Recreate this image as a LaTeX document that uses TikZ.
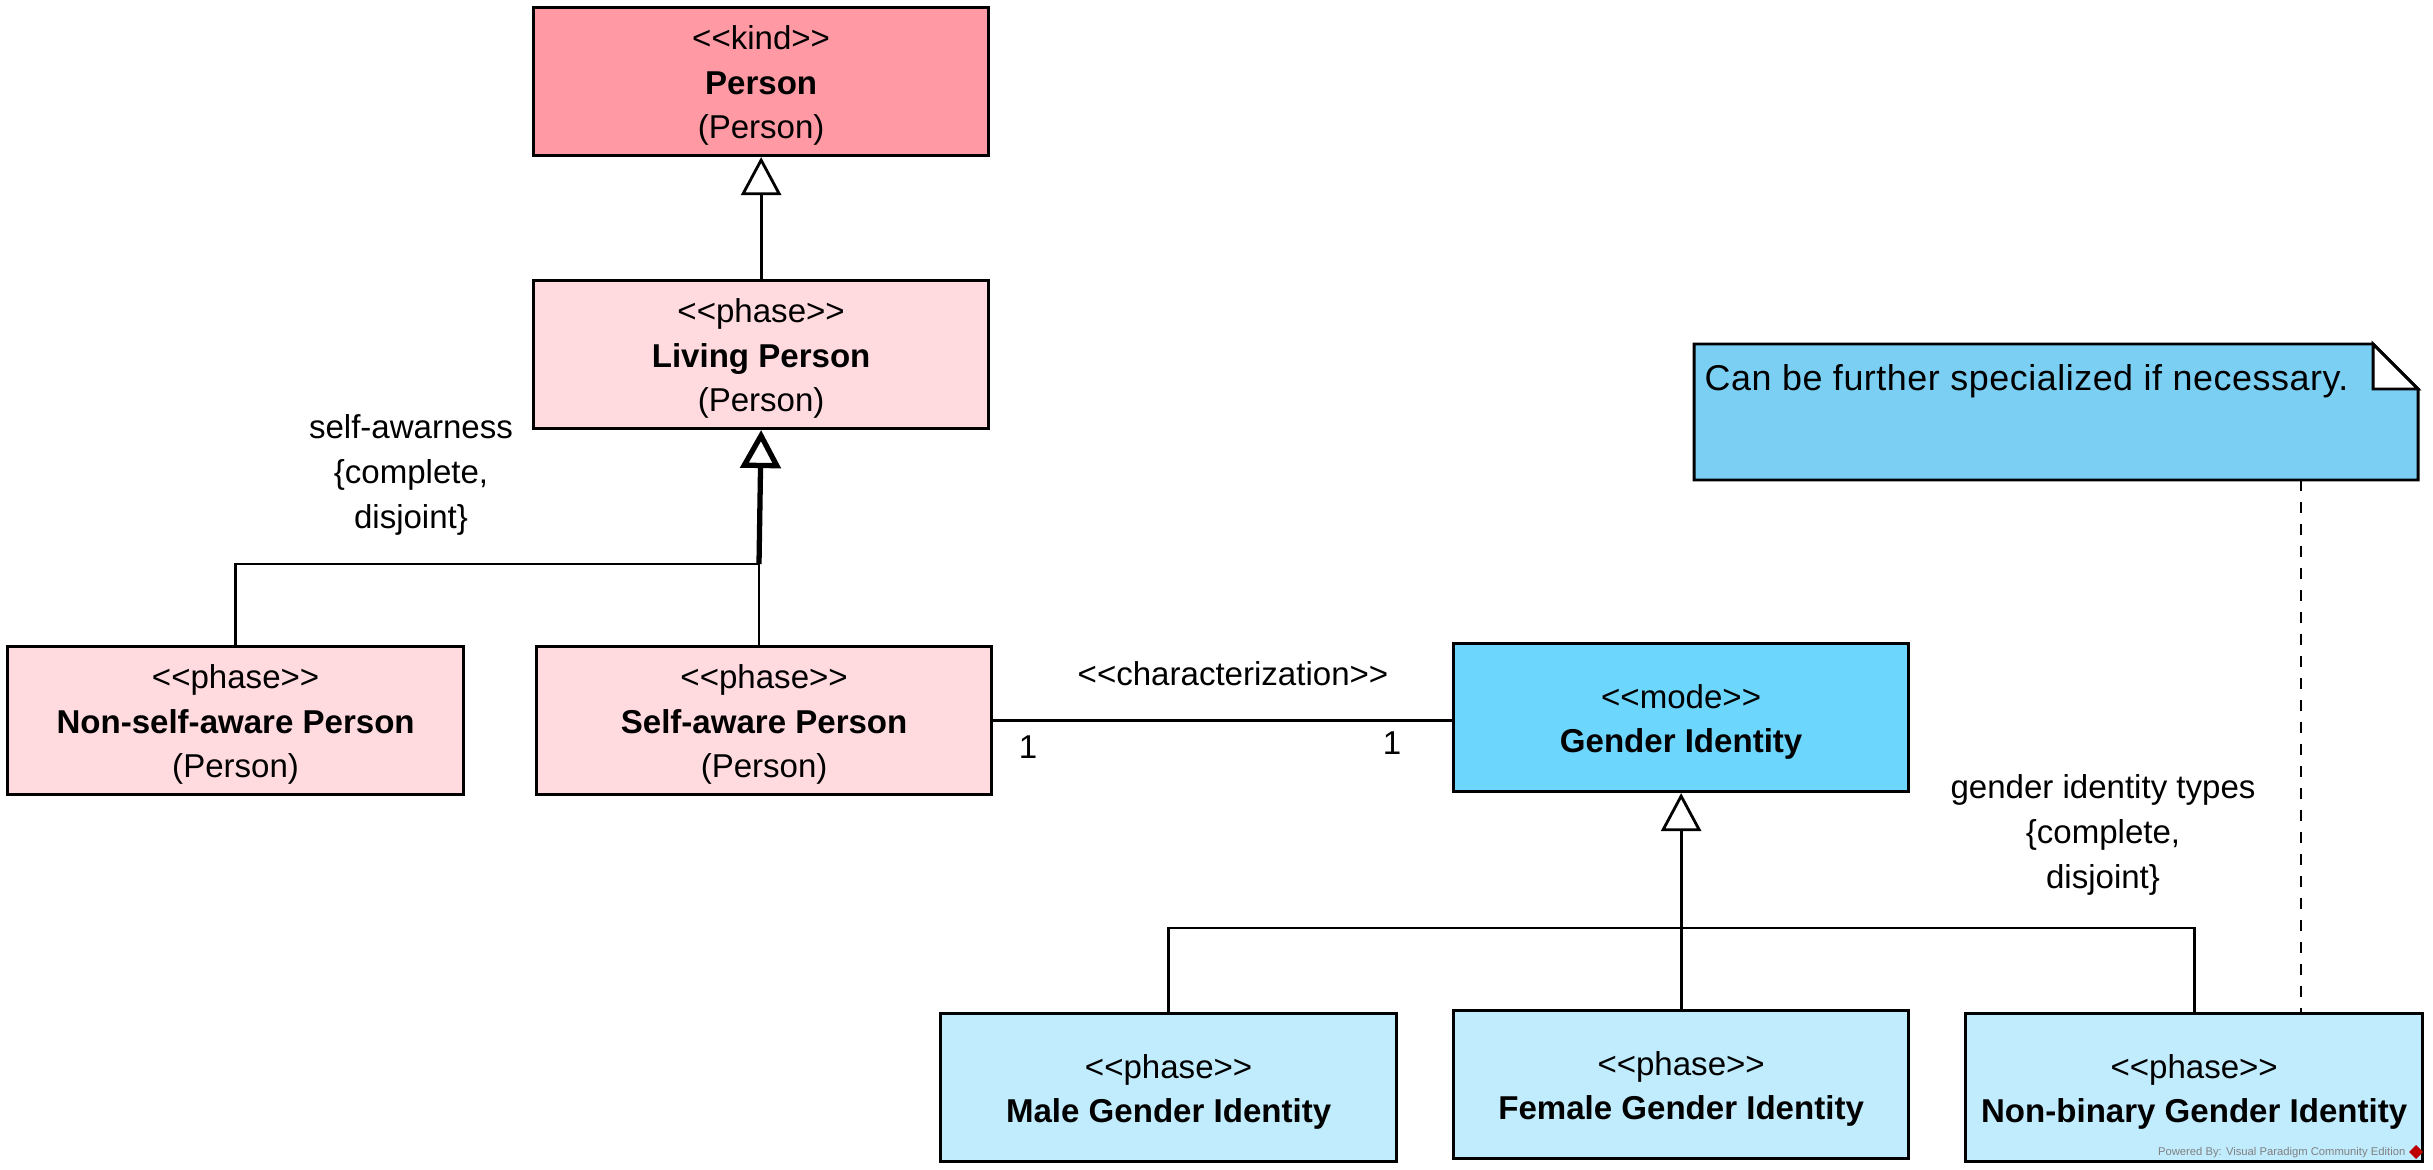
\documentclass[tikz,border=0pt]{standalone}
\usepackage{fontspec}
\setmainfont{Liberation Sans}
\newfontfamily\notefont[LetterSpace=1.5]{Liberation Sans}
\usepackage{tikz}
\usetikzlibrary{arrows.meta, positioning}
\definecolor{kindpink}{HTML}{FF9AA5}
\definecolor{phasepink}{HTML}{FFDADF}
\definecolor{modeblue}{HTML}{6DD6FD}
\definecolor{phaseblue}{HTML}{C1ECFD}
\definecolor{noteblue}{HTML}{7BCFF3}
\newcommand{\stereo}[1]{\rule{0pt}{9.2pt}<{}<#1>{}>}

\begin{document}
\begin{tikzpicture}[x=0.01cm, y=-0.01cm,
		box/.style={draw, line width=0.85pt, minimum width=4.55cm, minimum height=1.48cm, inner sep=0pt, anchor=north west, align=center, font=\fontsize{9.4}{12.6}\selectfont},
		gen/.style={-{Triangle[open, width=0.4cm, length=0.38cm]}, line width=0.8pt},
		conn/.style={line width=0.8pt},
		lbl/.style={align=center, font=\fontsize{9.4}{12.9}\selectfont}]
		%\draw [help lines] (0,0) grid (2433,1170);
		\useasboundingbox (0,0) rectangle (2433,1170);
		% classes
		\node[box, fill=kindpink] (person) at (532,6) {\stereo{kind}\\\textbf{Person}\\(Person)};
		\node[box, fill=phasepink] (living) at (532,279) {\stereo{phase}\\\textbf{Living Person}\\(Person)};
		\node[box, fill=phasepink, minimum width=4.56cm] (nonself) at (6,645) {\stereo{phase}\\\textbf{Non-self-aware Person}\\(Person)};
		\node[box, fill=phasepink] (self) at (535,645) {\stereo{phase}\\\textbf{Self-aware Person}\\(Person)};
		\node[box, fill=modeblue] (gender) at (1452,642) {\stereo{mode}\\\textbf{Gender Identity}};
		\node[box, fill=phaseblue, minimum width=4.56cm] (male) at (939,1012) {\stereo{phase}\\\textbf{Male Gender Identity}};
		\node[box, fill=phaseblue] (female) at (1452,1009) {\stereo{phase}\\\textbf{Female Gender Identity}};
		\node[box, fill=phaseblue, minimum width=4.57cm] (nonbin) at (1964,1012) {\stereo{phase}\\\textbf{Non-binary Gender Identity}};
		% note
		\draw[line width=0.85pt, fill=noteblue] (1694,344) -- (2373,344) -- (2418,389) |- (1694,480) -- cycle;
		\draw[line width=0.85pt, fill=white] (2373,344) |- (2418,389) -- cycle;
		\node[anchor=west, inner sep=0pt, font=\notefont\fontsize{10.2}{12}\selectfont] (notetext) at (1704,381) {Can be further specialized if necessary.};
		\coordinate (notefoot) at (2301,480);
		\draw[line width=0.8pt, dash pattern=on 0.11cm off 0.11cm] (notefoot) -- (notefoot |- nonbin.north);
		% generalizations
		\draw[gen] (living) -- (person);
		\coordinate (selfset) at (759,564);
		\draw[conn] (nonself.north) |- (selfset) -- (selfset |- self.north);
		\draw[gen, line width=1.5pt] (selfset) -- (living.south);
		\node[lbl] (selflbl) at (411,475) {self-awarness\\\{complete,\\disjoint\}};
		\coordinate (genderset) at (gender.south |- 0,928);
		\draw[gen] (female.north) -- (gender.south);
		\draw[conn] (male.north) |- (genderset) -| (nonbin.north);
		\node[lbl] (genderlbl) at (2103,835) {gender identity types\\\{complete,\\disjoint\}};
		% characterization
		\draw[conn] (self.east) -- (self.east -| gender.west);
		\node[lbl] (charlbl) at (1233,674) {<{}<characterization>{}>};
		\node[lbl] (mult1) at (1028,747) {1};
		\node[lbl] (mult2) at (1392,743) {1};
		% watermark
		\node[anchor=east, inner sep=0pt, text=gray, font=\fontsize{3.2}{4}\selectfont] (vp) at (2406,1153) {Powered By: Visual Paradigm Community Edition};
		\fill[red!75!black] (2416,1145) -- (2423,1152) -- (2416,1159) -- (2409,1152) -- cycle;
	\end{tikzpicture}
\end{document}
